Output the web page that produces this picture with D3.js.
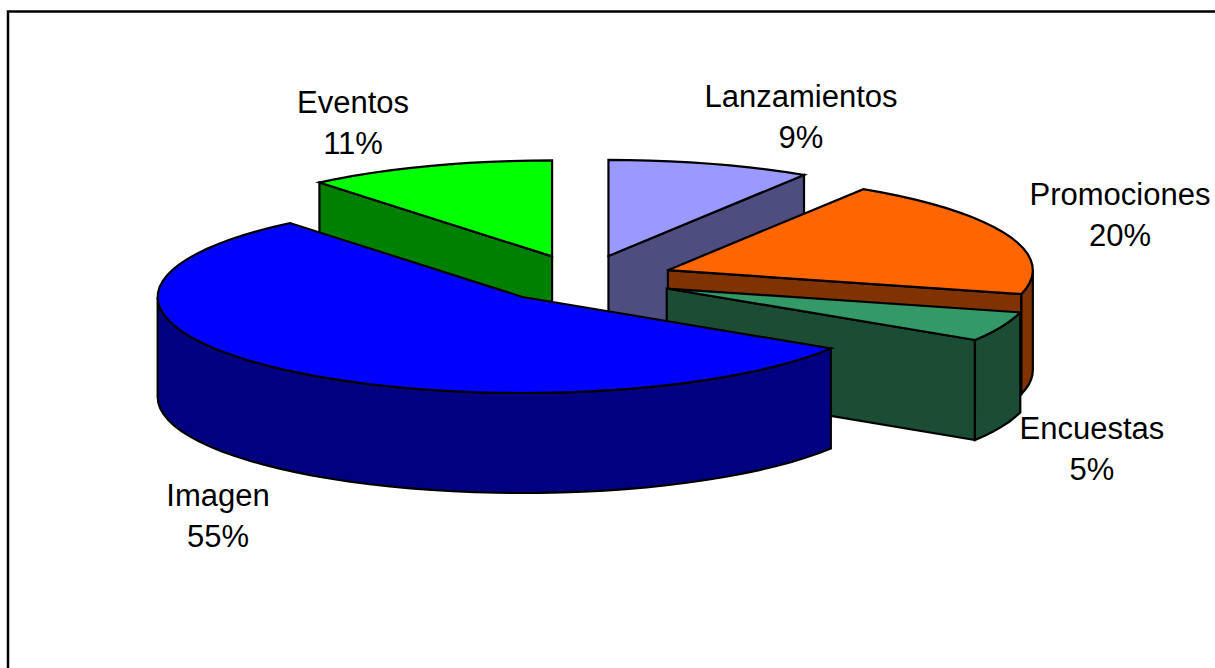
<!DOCTYPE html>
<html><head><meta charset="utf-8">
<script src="https://cdn.jsdelivr.net/npm/d3@7/dist/d3.min.js"></script>
<style>html,body{margin:0;padding:0;background:#fff;overflow:hidden}svg{display:block}</style>
</head><body>
<div id="chart"></div>
<script>
const categories = ["Lanzamientos", "Promociones", "Encuestas", "Imagen", "Eventos"];
const values = [9, 20, 5, 55, 11];
const topColors = ["#9999ff", "#ff6600", "#339966", "#0000ff", "#00ff00"];
const sideColors = ["#4d4d80", "#803300", "#1a4d33", "#000080", "#008000"];
const drawOrder = ["Lanzamientos", "Eventos", "Promociones", "Encuestas", "Imagen"];
const labelAnchors = [[801,107],[1120,205],[1092,439],[218,506],[353,113]];

const W = 1215, H = 668;
const svg = d3.select("#chart").append("svg").attr("width", W).attr("height", H);

// frame (open at right and bottom edges of the picture)
svg.append("rect").attr("x", 8).attr("y", 11.5).attr("width", W + 20).attr("height", H + 20)
  .attr("fill", "#fff").attr("stroke", "#000").attr("stroke-width", 2.5);

const cx = 583, cy = 279, rx = 365, ry = 96, depth = 100, explode = 0.25;
// projection: unit pie plane -> screen
const sx = d3.scaleLinear().domain([-1, 1]).range([-rx, rx]);
const sy = d3.scaleLinear().domain([-1, 1]).range([-ry, ry]);

const arcs = d3.pie().sort(null).value(d => d)(values).map((a, i) => {
  const mid = (a.startAngle + a.endAngle) / 2;
  return {
    name: categories[i], value: values[i], top: topColors[i], side: sideColors[i],
    a0: a.startAngle, a1: a.endAngle,
    ox: cx + sx(explode * Math.sin(mid)),
    oy: cy + sy(-explode * Math.cos(mid)),
    label: labelAnchors[i]
  };
});

const rim = (s, t, dz) => [s.ox + sx(Math.sin(t)), s.oy + sy(-Math.cos(t)) + (dz || 0)];
const samples = (t0, t1) => d3.range(0, 1.0001, 1 / Math.max(2, Math.ceil((t1 - t0) / 0.06))).map(k => t0 + (t1 - t0) * k);
const line = d3.line();

const radialFace = (s, t) => line([[s.ox, s.oy], rim(s, t), rim(s, t, depth), [s.ox, s.oy + depth]]) + "Z";
const wall = (s, t0, t1) => {
  const ts = samples(t0, t1);
  return line(ts.map(t => rim(s, t)).concat(ts.slice().reverse().map(t => rim(s, t, depth)))) + "Z";
};
const topFace = s => line([[s.ox, s.oy]].concat(samples(s.a0, s.a1).map(t => rim(s, t)))) + "Z";

const g = svg.append("g").attr("stroke", "#000").attr("stroke-width", 2.2).attr("stroke-linejoin", "miter");
drawOrder.forEach(name => {
  const s = arcs.find(d => d.name === name);
  const slice = g.append("g").attr("class", "slice");
  const lo = Math.PI / 2, hi = 3 * Math.PI / 2;
  // radial faces whose normal points to the viewer
  if (s.a0 > 3 * Math.PI / 2 && s.a0 < 2 * Math.PI)
    slice.append("path").attr("d", radialFace(s, s.a0)).attr("fill", s.side);
  if (s.a1 > 0 && s.a1 < Math.PI)
    slice.append("path").attr("d", radialFace(s, s.a1)).attr("fill", s.side);
  const w0 = Math.max(s.a0, lo), w1 = Math.min(s.a1, hi);
  if (w1 > w0) slice.append("path").attr("d", wall(s, w0, w1)).attr("fill", s.side);
  slice.append("path").attr("d", topFace(s)).attr("fill", s.top);
});

const fontSize = 31, lineGap = 41;
const labels = svg.append("g").attr("font-family", "'Liberation Sans', Arial, sans-serif")
  .attr("font-size", fontSize).attr("fill", "#000").attr("text-anchor", "middle");
arcs.forEach(s => {
  labels.append("text").attr("x", s.label[0]).attr("y", s.label[1]).text(s.name);
  labels.append("text").attr("x", s.label[0]).attr("y", s.label[1] + lineGap).text(s.value + "%");
});
</script>
</body></html>
